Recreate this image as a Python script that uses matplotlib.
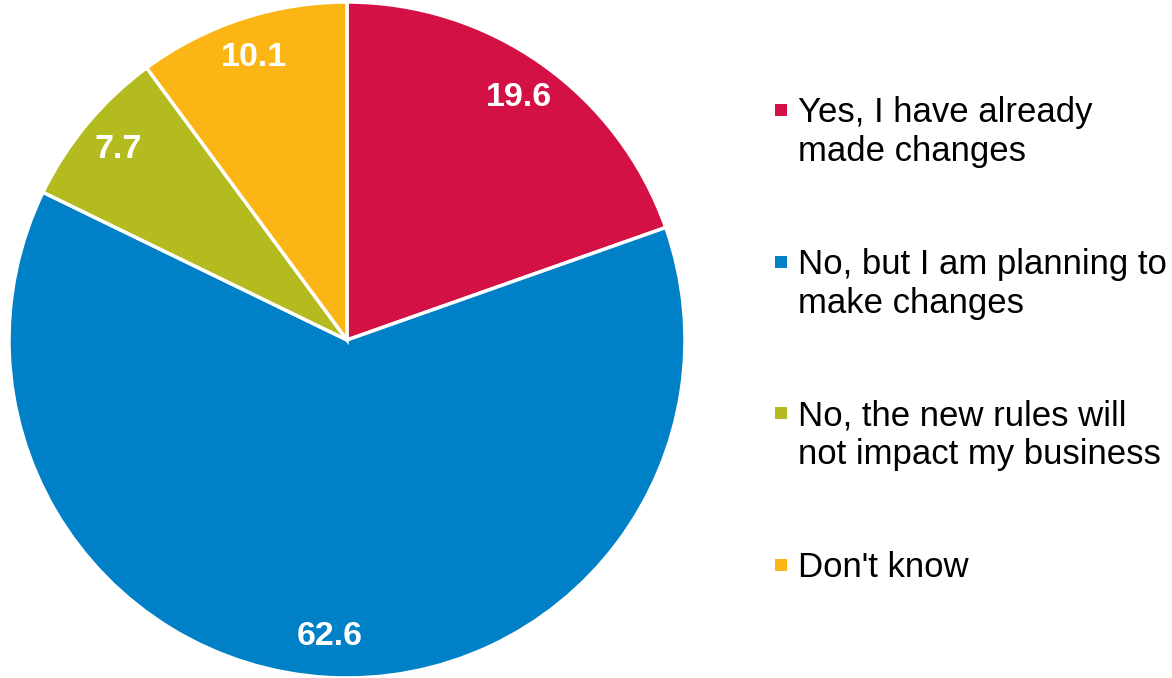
import matplotlib
matplotlib.use("Agg")
import matplotlib.pyplot as plt
from matplotlib.patches import Rectangle

# survey answers (% of respondents)
labels = [
    "Yes, I have already\nmade changes",
    "No, but I am planning to\nmake changes",
    "No, the new rules will\nnot impact my business",
    "Don't know",
]
values = [19.6, 62.6, 7.7, 10.1]
colors = ["#D41145", "#0080C6", "#B3BB1E", "#FBB615"]

plt.rcParams["font.family"] = ["Liberation Sans", "DejaVu Sans"]

W, H = 1172, 678
fig = plt.figure(figsize=(W / 100, H / 100), dpi=100)

# pie axes: centre at (347, 340) px, radius 338 px
cx, cy, r = 347, 340, 338
ax = fig.add_axes([(cx - r) / W, (H - cy - r) / H, 2 * r / W, 2 * r / H])

val_iter = iter(values)
wedges, _, autotexts = ax.pie(
    values,
    colors=colors,
    startangle=90,
    counterclock=False,
    radius=1.0,
    autopct=lambda p: f"{next(val_iter):.1f}",
    pctdistance=0.88,
    wedgeprops=dict(edgecolor="white", linewidth=2.5),
    textprops=dict(color="white", fontsize=24.5, fontweight="bold"),
)
ax.set_xlim(-1, 1)
ax.set_ylim(-1, 1)
ax.set_aspect("equal")
ax.axis("off")

# legend drawn by hand, one block per answer
y_first = [110, 262, 413, 565]
line_gap = 39
for lab, col, yc in zip(labels, colors, y_first):
    fig.patches.append(Rectangle(((781 - 6) / W, (H - yc - 6) / H), 12 / W, 12 / H,
                                 transform=fig.transFigure, facecolor=col,
                                 edgecolor="none"))
    for i, line in enumerate(lab.split("\n")):
        fig.text(798 / W, (H - yc - 12 - i * line_gap) / H, line, fontsize=25,
                 color="black", ha="left", va="baseline")

fig.savefig("out.png", dpi=100)
